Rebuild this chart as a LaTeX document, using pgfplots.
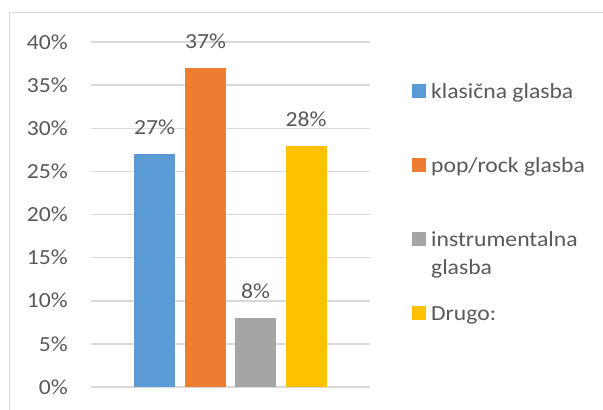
\documentclass[border=0pt]{standalone}
\usepackage{pgfplots}
\pgfplotsset{compat=1.18}
\usepackage{fontspec}
\setmainfont[FakeStretch=1.1]{Carlito}
\definecolor{cblue}{HTML}{5B9BD5}
\definecolor{corange}{HTML}{ED7D31}
\definecolor{cgray}{HTML}{A5A5A5}
\definecolor{cyellow}{HTML}{FFC000}
\definecolor{ctext}{HTML}{595959}
\definecolor{cgrid}{HTML}{D9D9D9}
\begin{document}
\fontsize{21.5}{26}\selectfont
\begin{tikzpicture}[x=1pt,y=1pt]
\useasboundingbox (0,0) rectangle (603,410);
\draw[cgrid, line width=1.3pt] (9.5,0) -- (9.5,397.5) -- (603,397.5);
\begin{axis}[
  at={(91pt,23pt)}, anchor=south west,
  scale only axis, width=279pt, height=345pt,
  xmin=91, xmax=370, ymin=0, ymax=40,
  ytick={0,5,...,40},
  yticklabels={0\%,5\%,10\%,15\%,20\%,25\%,30\%,35\%,40\%},
  xtick=\empty,
  ymajorgrids, grid style={cgrid, line width=1.5pt},
  axis line style={draw=none},
  major tick length=0pt,
  /pgf/number format/assume math mode=true,
  yticklabel style={inner sep=0pt, xshift=-23pt, text=ctext, font=\fontsize{21.5}{26}\selectfont},
  clip=false,
  ybar, bar width=41, bar shift=0pt,
  nodes near coords={\pgfmathprintnumber{\pgfplotspointmeta}\%},
  every node near coord/.append style={anchor=south, inner sep=0pt, yshift=19pt, text=ctext, font=\fontsize{21.5}{26}\selectfont},
  legend image code/.code={\fill[#1] (0pt,0pt) rectangle (14pt,14pt);},
  legend cell align=left,
  legend style={draw=none, fill=none, inner sep=0pt, row sep=0pt, column sep=5pt,
    nodes={inner sep=0pt, text height=37pt, text depth=37pt, anchor=base west},
    at={(1.1505,0.945)}, anchor=north west,
    font=\fontsize{21.5}{26}\selectfont, text=ctext},
]
\addplot[fill=cblue, draw=none] coordinates {(154.5,27)};
\addlegendentry{klasična glasba}
\addplot[fill=corange, draw=none] coordinates {(205.5,37)};
\addlegendentry{pop/rock glasba}
\addplot[fill=cgray, draw=none] coordinates {(255.5,8)};
\addlegendentry{\parbox[t]{160pt}{\fontsize{21.5}{28}\selectfont instrumentalna\\glasba}}
\addplot[fill=cyellow, draw=none] coordinates {(306,28)};
\addlegendentry{Drugo:}
\end{axis}
\end{tikzpicture}
\end{document}
